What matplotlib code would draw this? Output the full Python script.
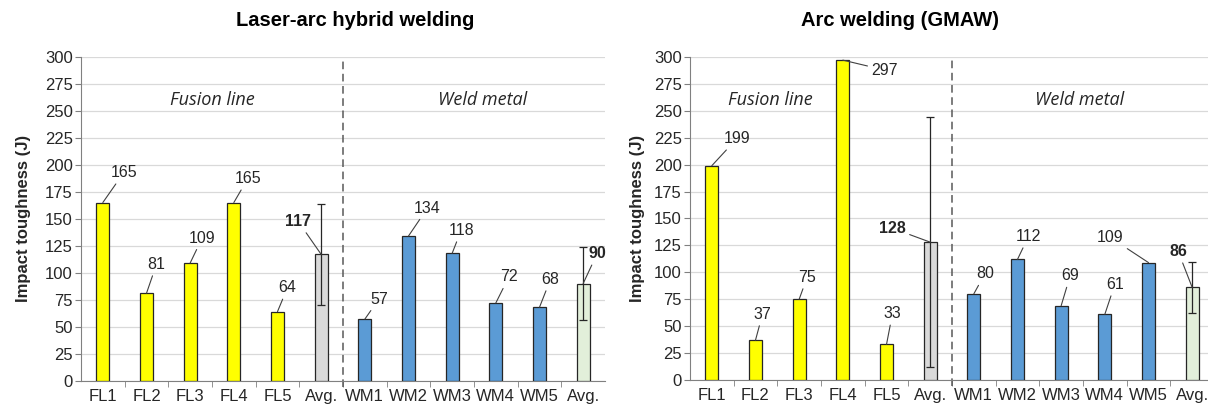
import matplotlib
matplotlib.use("Agg")
import matplotlib.pyplot as plt
import numpy as np

plt.rcParams['font.family'] = ['Liberation Sans', 'DejaVu Sans']

categories = ["FL1", "FL2", "FL3", "FL4", "FL5", "Avg.",
              "WM1", "WM2", "WM3", "WM4", "WM5", "Avg."]

# Laser-arc hybrid welding
hybrid_fl = [165, 81, 109, 165, 64]
hybrid_fl_avg = 117
hybrid_fl_err = 47
hybrid_wm = [57, 134, 118, 72, 68]
hybrid_wm_avg = 90
hybrid_wm_err = 34

# Arc welding (GMAW)
gmaw_fl = [199, 37, 75, 297, 33]
gmaw_fl_avg = 128
gmaw_fl_err = 116
gmaw_wm = [80, 112, 69, 61, 109]
gmaw_wm_avg = 86
gmaw_wm_err = 23.5

# label offsets in pixels (dx, dy) for each bar's value label
hybrid_offsets = [(21, 30), (10, 29), (12, 25), (14, 24), (10, 24), (-23, 33),
                  (14, 20), (19, 28), (9, 23), (13, 26), (11, 28), (14, 30)]
gmaw_offsets = [(25, 27), (7, 26), (8, 22), (42, -10), (6, 31), (-38, 14),
                (11, 20), (11, 23), (9, 30), (10, 30), (-38, 25), (-14, 36)]

YELLOW = "#FFFF00"
GREY = "#D9D9D9"
BLUE = "#5B9BD5"
GREEN = "#E2EFDA"


def draw_panel(ax, fl, fl_avg, fl_err, wm, wm_avg, wm_err, offsets,
               fl_pos, wm_pos, ylab_x):
    values = fl + [fl_avg] + wm + [wm_avg]
    colors = [YELLOW] * 5 + [GREY] + [BLUE] * 5 + [GREEN]
    x = np.arange(len(values))
    ax.bar(x, values, width=0.3, color=colors, edgecolor="#262626",
           linewidth=0.9, zorder=3)
    ax.errorbar([5, 11], [fl_avg, wm_avg], yerr=[fl_err, wm_err], fmt="none",
                ecolor="#262626", elinewidth=0.9, capsize=3, capthick=0.9,
                zorder=4)

    for i, v in enumerate(values):
        bold = i in (5, 11)
        ax.annotate(str(v), xy=(x[i], v), xytext=offsets[i],
                    textcoords="offset pixels", ha="center", va="center",
                    fontsize=11.5, color="#262626",
                    fontweight="bold" if bold else "normal",
                    arrowprops=dict(arrowstyle="-", color="#404040", lw=0.8,
                                    shrinkA=1, shrinkB=0),
                    zorder=5)

    ax.set_xlim(-0.5, len(values) - 0.5)
    ax.set_ylim(0, 300)
    ax.set_yticks(np.arange(0, 301, 25))
    ax.set_xticks(x)
    ax.set_xticklabels(categories)
    ax.set_xticks(np.arange(0.5, len(values) - 0.5, 1), minor=True)
    ax.tick_params(axis="x", which="major", length=0, pad=6, labelsize=12,
                   colors="#262626")
    ax.tick_params(axis="x", which="minor", length=4, color="#808080")
    ax.tick_params(axis="y", length=4, color="#808080", labelsize=12,
                   labelcolor="#262626", pad=2)
    ax.yaxis.grid(True, color="#D9D9D9", lw=0.9, zorder=0)
    ax.set_axisbelow(True)
    for s in ("top", "right"):
        ax.spines[s].set_visible(False)
    for s in ("left", "bottom"):
        ax.spines[s].set_color("#808080")
    ax.axvline(5.5, ymin=-0.02, ymax=1.0, color="#595959", lw=1.1,
               ls=(0, (5, 3)), clip_on=False, zorder=2)
    ax.set_ylabel("Impact toughness (J)", fontsize=12, fontweight="bold",
                  color="#262626")
    ax.yaxis.set_label_coords(ylab_x, 0.5)
    ax.text(fl_pos, 260, "Fusion line", style="italic", fontsize=13,
            ha="center", va="center", color="#262626",
            family=["Open Sans", "DejaVu Sans"])
    ax.text(wm_pos, 260, "Weld metal", style="italic", fontsize=13,
            ha="center", va="center", color="#262626",
            family=["Open Sans", "DejaVu Sans"])


fig = plt.figure(figsize=(12.08, 4.09), dpi=100)
ax1 = fig.add_axes([81 / 1208, 0.0692, 524 / 1208, 0.792])
ax2 = fig.add_axes([690 / 1208, 0.0709, 524 / 1208, 0.790])

draw_panel(ax1, hybrid_fl, hybrid_fl_avg, hybrid_fl_err,
           hybrid_wm, hybrid_wm_avg, hybrid_wm_err, hybrid_offsets,
           2.5, 8.7, -0.0954)
draw_panel(ax2, gmaw_fl, gmaw_fl_avg, gmaw_fl_err,
           gmaw_wm, gmaw_wm_avg, gmaw_wm_err, gmaw_offsets,
           1.33, 8.43, -0.0859)

fig.text(355 / 1208, 0.951, "Laser-arc hybrid welding", ha="center",
         va="center", fontsize=14.5, fontweight="bold", color="#000000")
fig.text(900 / 1208, 0.951, "Arc welding (GMAW)", ha="center",
         va="center", fontsize=14.5, fontweight="bold", color="#000000")

fig.savefig("out.png", dpi=100)
